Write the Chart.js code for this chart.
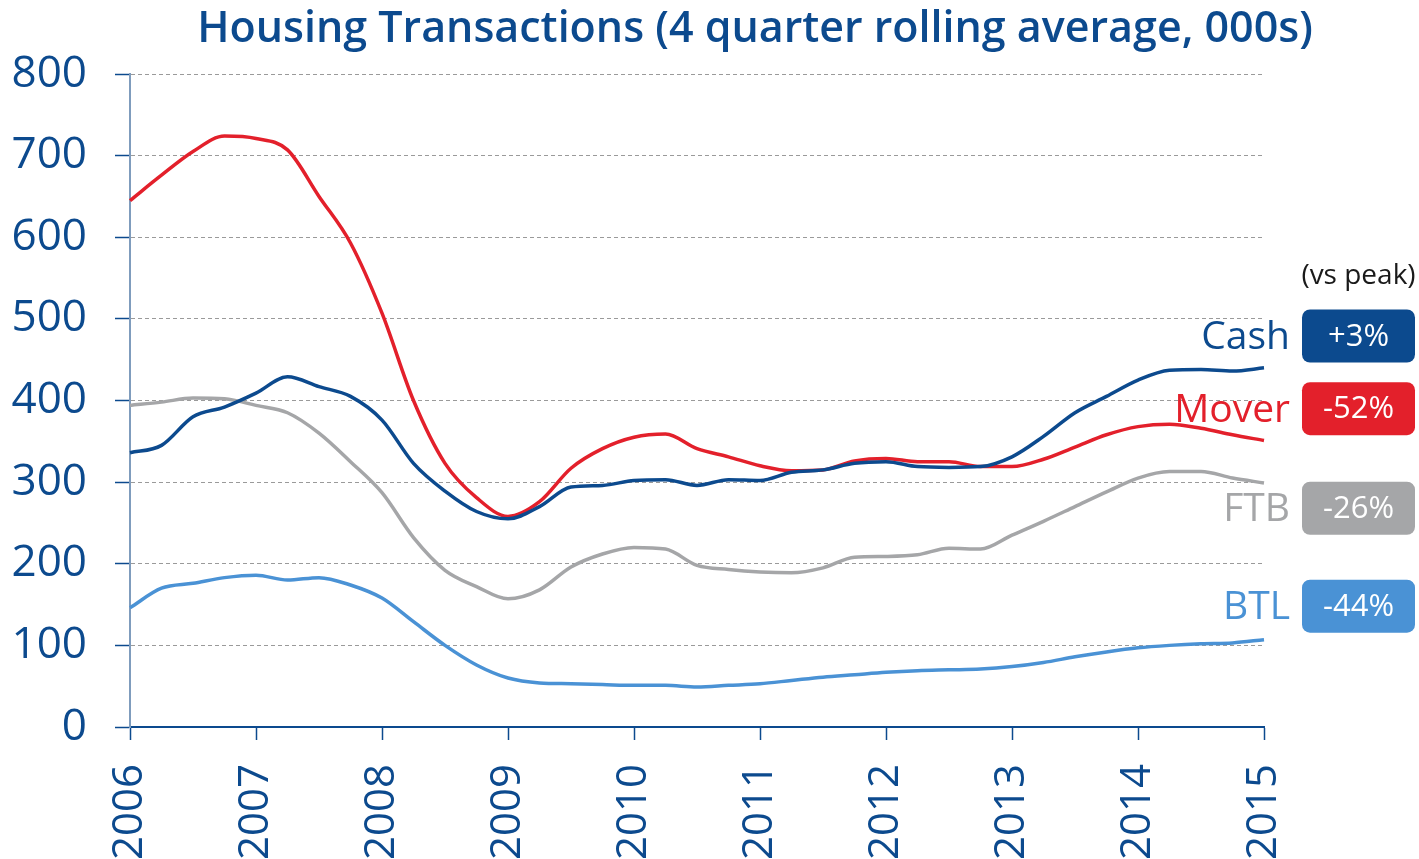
<!DOCTYPE html>
<html>
<head>
<meta charset="utf-8">
<script src="https://cdn.jsdelivr.net/npm/chart.js@4.4.1/dist/chart.umd.min.js"></script>
<style>
  html, body { margin: 0; padding: 0; background: #fff; }
  #wrap { width: 1419px; height: 859px; }
</style>
</head>
<body>
<div id="wrap"><canvas id="chart"></canvas></div>
<script>
// Quarterly points, 4 quarter rolling average (000s)
const quarters = [
  '2006 Q1','2006 Q2','2006 Q3','2006 Q4','2007 Q1','2007 Q2','2007 Q3','2007 Q4',
  '2008 Q1','2008 Q2','2008 Q3','2008 Q4','2009 Q1','2009 Q2','2009 Q3','2009 Q4',
  '2010 Q1','2010 Q2','2010 Q3','2010 Q4','2011 Q1','2011 Q2','2011 Q3','2011 Q4',
  '2012 Q1','2012 Q2','2012 Q3','2012 Q4','2013 Q1','2013 Q2','2013 Q3','2013 Q4',
  '2014 Q1','2014 Q2','2014 Q3','2014 Q4','2015 Q1'
];
const cash  = [336,345,380,392,409,429,417,405,376,323,289,264,255,270,294,296,302,303,296,303,302,312,315,323,325,319,318,319,331,356,385,405,425,437,438,436,440];
const mover = [645,676,705,724,721,707,650,593,507,400,323,281,258,276,317,341,355,359,341,331,320,314,315,326,329,325,325,319,319,328,343,358,368,371,366,358,351];
const ftb   = [394,398,403,402,394,385,360,325,287,232,192,172,157,168,196,212,220,218,198,193,190,189,195,208,209,211,219,218,235,252,270,288,305,313,313,305,299];
const btl   = [146,170,176,183,186,180,183,174,158,129,100,76,60,54,53,52,51,51,49,51,53,57,61,64,67,69,70,71,74,79,86,92,97,100,102,103,107];

const seriesNames = ['Cash', 'Mover', 'FTB', 'BTL'];
const vsPeak = ['+3%', '-52%', '-26%', '-44%'];

const BLUE = '#0c4a8e';
const RED = '#e3202b';
const GREY = '#a5a6a8';
const LIGHT = '#4a92d5';
const colors = [BLUE, RED, GREY, LIGHT];
const FONT = "'Open Sans', 'Noto Sans', sans-serif";

// title + right hand labels with "vs peak" boxes
const sideLabels = {
  id: 'sideLabels',
  afterDraw(chart) {
    const ctx = chart.ctx;
    const area = chart.chartArea;
    const y = chart.scales.y;
    ctx.save();
    ctx.fillStyle = BLUE;
    ctx.font = `600 43px ${FONT}`;
    ctx.textAlign = 'center';
    ctx.textBaseline = 'middle';
    ctx.fillText('Housing Transactions (4 quarter rolling average, 000s)', 755, 30);

    const bx = area.right + 38, bw = 113, bh = 53;
    ctx.fillStyle = '#1a1a1a';
    ctx.font = `28px ${FONT}`;
    ctx.fillText('(vs peak)', bx + bw / 2, 276);

    const anchors = [479, 390, 268, 148];
    anchors.forEach((v, i) => {
      const cy = y.getPixelForValue(v);
      ctx.fillStyle = colors[i];
      ctx.beginPath();
      ctx.roundRect(bx, cy - bh / 2, bw, bh, 8);
      ctx.fill();
      ctx.textAlign = 'right';
      ctx.font = `39px ${FONT}`;
      ctx.fillText(seriesNames[i], bx - 12, cy + 2);
      ctx.fillStyle = '#fff';
      ctx.textAlign = 'center';
      ctx.font = `31px ${FONT}`;
      ctx.fillText(vsPeak[i], bx + bw / 2, cy + 1);
    });
    ctx.restore();
  }
};

const lineStyle = (label, data, color) => ({
  label, data,
  borderColor: color,
  borderWidth: 3.5,
  pointRadius: 0,
  cubicInterpolationMode: 'monotone',
  fill: false
});

new Chart(document.getElementById('chart'), {
  type: 'line',
  data: {
    labels: quarters,
    datasets: [
      lineStyle('Cash', cash, BLUE),
      lineStyle('Mover', mover, RED),
      lineStyle('FTB', ftb, GREY),
      lineStyle('BTL', btl, LIGHT)
    ]
  },
  options: {
    responsive: true,
    maintainAspectRatio: false,
    animation: false,
    layout: { padding: { top: 74, right: 155, left: 0, bottom: 0 } },
    plugins: {
      legend: { display: false },
      tooltip: { enabled: false },
      title: { display: false }
    },
    scales: {
      x: {
        offset: false,
        afterFit: s => { s.height = 132; },
        grid: {
          drawOnChartArea: false,
          drawTicks: true,
          tickLength: 13,
          tickWidth: 1.5,
          tickColor: c => (quarters[c.index] || '').endsWith('Q1') ? BLUE : 'rgba(0,0,0,0)'
        },
        border: { display: true, color: BLUE, width: 2 },
        ticks: {
          autoSkip: false,
          minRotation: 90,
          maxRotation: 90,
          padding: 24,
          color: BLUE,
          font: { family: FONT, size: 42 },
          callback: function (val, i) {
            const q = quarters[i];
            return q.endsWith('Q1') ? q.slice(0, 4) : '';
          }
        }
      },
      y: {
        min: 0,
        max: 800,
        afterFit: s => { s.width = 130; },
        grid: {
          color: '#9a9a9a',
          lineWidth: 1,
          tickLength: 15,
          tickColor: BLUE,
          tickWidth: 1.5,
          tickBorderDash: []
        },
        border: { display: true, color: '#7f9cbd', width: 2, dash: [4, 3] },
        ticks: {
          stepSize: 100,
          padding: 28,
          color: BLUE,
          font: { family: FONT, size: 44 }
        }
      }
    }
  },
  plugins: [sideLabels]
});
</script>
</body>
</html>
